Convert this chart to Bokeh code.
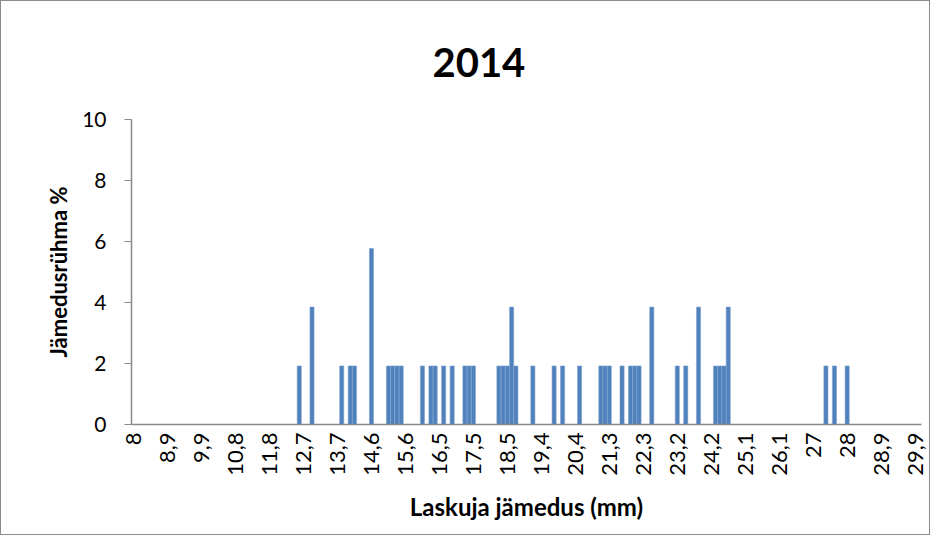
import math
from bokeh.plotting import figure
from bokeh.models import FixedTicker, Range1d, ColumnDataSource
from bokeh.embed import file_html
from bokeh.resources import INLINE

# ---- data ----
title_text = "2014"
x_title = "Laskuja jämedus (mm)"
y_title = "Jämedusrühma %"

n_categories = 186          # histogram classes from 8 mm upward
label_every = 8             # one tick label every 8 classes
tick_labels = ["8", "8,9", "9,9", "10,8", "11,8", "12,7", "13,7", "14,6", "15,6",
               "16,5", "17,5", "18,5", "19,4", "20,4", "21,3", "22,3", "23,2",
               "24,2", "25,1", "26,1", "27", "28", "28,9", "29,9"]

# class index of each non-empty class and its share (%)
bin_index = [39, 42, 49, 51, 52, 56, 60, 61, 62, 63, 68, 70, 71, 73, 75,
             78, 79, 80, 86, 87, 88, 89, 90, 94, 99, 101, 105, 110, 111, 112,
             115, 117, 118, 119, 122, 128, 130, 133, 137, 138, 139, 140,
             163, 165, 168]
percent = [1.92, 3.85, 1.92, 1.92, 1.92, 5.77, 1.92, 1.92, 1.92, 1.92, 1.92, 1.92, 1.92, 1.92, 1.92,
           1.92, 1.92, 1.92, 1.92, 1.92, 1.92, 3.85, 1.92, 1.92, 1.92, 1.92, 1.92, 1.92, 1.92, 1.92,
           1.92, 1.92, 1.92, 1.92, 3.85, 1.92, 1.92, 3.85, 1.92, 1.92, 1.92, 3.85,
           1.92, 1.92, 1.92]
y_ticks = [0, 2, 4, 6, 8, 10]

FONT = "Lato"
AXIS_COLOR = "#898989"

p = figure(width=930, height=535, output_backend="svg", toolbar_location=None,
           x_range=Range1d(-0.5, n_categories - 0.5), y_range=Range1d(0, 10),
           min_border_left=130, min_border_right=10, min_border_top=118,
           min_border_bottom=112, title=title_text)
p.styles = {"border": "1px solid #8c8c8c", "box-sizing": "border-box"}
p.outline_line_color = None
p.background_fill_color = "white"
p.border_fill_color = "white"

src = ColumnDataSource(dict(x=bin_index, top=percent))
p.vbar(x="x", top="top", bottom=0, width=0.97, source=src,
       fill_color="#4F81BD", line_color="#7FA2CF", line_width=0.6)

p.title.text_font = FONT
p.title.text_font_size = "40px"
p.title.text_font_style = "bold"
p.title.text_color = "black"
p.title.align = "left"
p.title.offset = 301
p.title.standoff = 85

p.xgrid.visible = False
p.ygrid.visible = False

xa = p.xaxis[0]
tick_pos = [i * label_every for i in range(len(tick_labels))]
xa.ticker = FixedTicker(ticks=tick_pos)
xa.major_label_overrides = {t: lab for t, lab in zip(tick_pos, tick_labels)}
xa.major_label_orientation = math.pi / 2
xa.major_tick_out = 0
xa.major_tick_in = 0
xa.minor_tick_out = 0
xa.minor_tick_in = 0
xa.axis_line_color = AXIS_COLOR
xa.axis_line_width = 1.5
xa.major_label_text_font = FONT
xa.major_label_text_font_size = "22px"
xa.major_label_text_color = "black"
xa.major_label_standoff = 8
xa.axis_label = x_title
xa.axis_label_text_font = FONT
xa.axis_label_text_font_size = "24px"
xa.axis_label_text_font_style = "bold"
xa.axis_label_text_color = "black"
xa.axis_label_standoff = 13

ya = p.yaxis[0]
ya.ticker = FixedTicker(ticks=y_ticks)
ya.major_tick_out = 7
ya.major_tick_in = 0
ya.minor_tick_out = 0
ya.minor_tick_in = 0
ya.major_tick_line_color = AXIS_COLOR
ya.axis_line_color = AXIS_COLOR
ya.axis_line_width = 1.5
ya.major_label_text_font = FONT
ya.major_label_text_font_size = "21px"
ya.major_label_text_color = "black"
ya.major_label_standoff = 18
ya.axis_label = y_title
ya.axis_label_text_font = FONT
ya.axis_label_text_font_size = "22px"
ya.axis_label_text_font_style = "bold"
ya.axis_label_text_color = "black"
ya.axis_label_standoff = 7

open("out.html", "w").write(file_html(p, INLINE))
